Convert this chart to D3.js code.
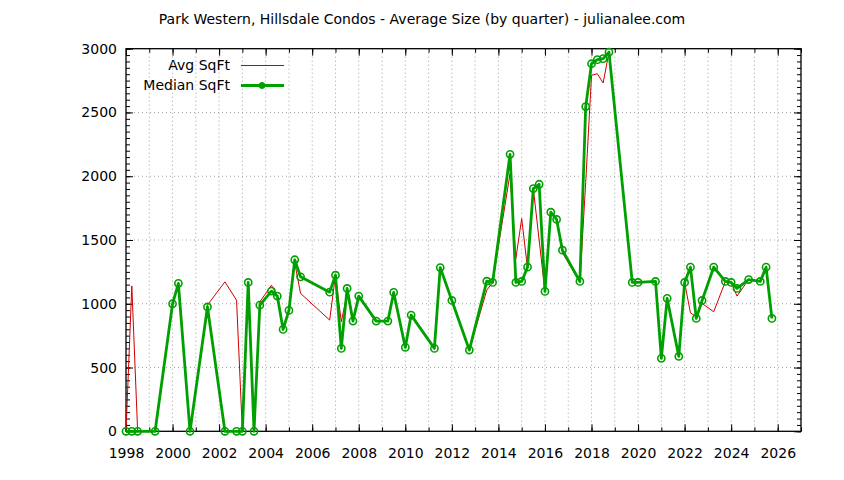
<!DOCTYPE html>
<html>
<head>
<meta charset="utf-8">
<script src="https://cdn.jsdelivr.net/npm/d3@7"></script>
<style>
  body { margin: 0; background: #fff; }
  text { font-family: "DejaVu Sans", sans-serif; font-size: 14px; fill: #000; }
</style>
</head>
<body>
<svg id="chart" width="844" height="480"></svg>
<script>
// quarters that had sales, as "year-quarter"
const periods = [
  '1998-1','1998-2','1998-3','1999-2','2000-1','2000-2','2000-4','2001-3','2002-2','2002-4',
  '2003-1','2003-2','2003-3','2003-4','2004-2','2004-3','2004-4','2005-1','2005-2','2005-3',
  '2006-4','2007-1','2007-2','2007-3','2007-4','2008-1','2008-4','2009-2','2009-3','2010-1',
  '2010-2','2011-2','2011-3','2012-1','2012-4','2013-3','2013-4','2014-3','2014-4','2015-1',
  '2015-2','2015-3','2015-4','2016-1','2016-2','2016-3','2016-4','2017-3','2017-4','2018-1',
  '2018-2','2018-3','2018-4','2019-4','2020-1','2020-4','2021-1','2021-2','2021-4','2022-1',
  '2022-2','2022-3','2022-4','2023-2','2023-4','2024-1','2024-2','2024-4','2025-2','2025-3',
  '2025-4'
];
const avgSqft = [
  0, 1140, 0, 0, 1000, 1160, 0, 990, 1172, 1028,
  0, 1167, 0, 1015, 1146, 1060, 799, 948, 1320, 1081,
  872, 1224, 859, 1081, 864, 1060, 864, 864, 1089, 658,
  911, 650, 1284, 1026, 637, 1107, 1167, 2021, 1355, 1668,
  1277, 1903, 1500, 1097, 1718, 1661, 1400, 1170, 1950, 2791,
  2804, 2731, 2973, 1167, 1167, 1175, 572, 1042, 587, 1167,
  929, 900, 1003, 937, 1175, 1167, 1060, 1190, 1175, 1287,
  885
];
const medianSqft = [
  0, 0, 0, 0, 1000, 1160, 0, 975, 0, 0,
  0, 1167, 0, 989, 1099, 1060, 799, 948, 1345, 1211,
  1091, 1224, 650, 1120, 864, 1060, 864, 864, 1089, 658,
  911, 650, 1284, 1026, 637, 1177, 1167, 2172, 1167, 1175,
  1287, 1903, 1937, 1097, 1718, 1661, 1420, 1175, 2546, 2882,
  2914, 2922, 2973, 1167, 1167, 1175, 572, 1042, 587, 1167,
  1287, 885, 1026, 1287, 1175, 1167, 1120, 1190, 1175, 1287,
  885
];
const xTickYears = d3.range(1998, 2027, 2);
const yTickValues = [0, 500, 1000, 1500, 2000, 2500, 3000];
const chartTitle = 'Park Western, Hillsdale Condos - Average Size (by quarter) - julianalee.com';
const seriesNames = ['Avg SqFt', 'Median SqFt'];

const plotLeft = 126, plotRight = 801, plotTop = 48.7, plotBottom = 431.3;
const avgColor = '#d00000';
const medColor = '#00a000';

function quarterToYear(p){
    let parts = p.split('-');
    return +parts[0] + (+parts[1] - 1) / 4;
}

let rows = periods.map(function(p, i){
    return {x: quarterToYear(p), avg: avgSqft[i], med: medianSqft[i]};
});

let svg = d3.select('#chart');

let x = d3.scaleLinear().domain([1998, 2027]).range([plotLeft, plotRight]);
let y = d3.scaleLinear().domain([0, 3000]).range([plotBottom, plotTop]);

// dotted grid
svg.append('g').selectAll('line')
   .data(d3.range(1999, 2027))
   .enter()
   .append('line')
   .attr('x1', function(d){return x(d);})
   .attr('x2', function(d){return x(d);})
   .attr('y1', plotTop)
   .attr('y2', plotBottom)
   .attr('stroke', '#a0a0a0')
   .attr('stroke-width', 1)
   .attr('stroke-dasharray', '1,3');

svg.append('g').selectAll('line')
   .data(yTickValues.slice(1, -1))
   .enter()
   .append('line')
   .attr('x1', plotLeft)
   .attr('x2', plotRight)
   .attr('y1', function(d){return y(d);})
   .attr('y2', function(d){return y(d);})
   .attr('stroke', '#a0a0a0')
   .attr('stroke-width', 1)
   .attr('stroke-dasharray', '1,3');

// axes, ticks pointing inward
function addAxis(axis, tx, ty){
    let g = svg.append('g')
               .attr('transform', 'translate(' + tx + ',' + ty + ')')
               .call(axis);
    g.select('.domain').remove();
    g.selectAll('line').attr('stroke', '#000').attr('stroke-width', 1);
    return g;
}

let yearMinor = d3.range(1998, 2028);
let sqftMinor = d3.range(0, 3001, 50);

addAxis(d3.axisBottom(x).tickValues(yearMinor).tickSize(-4).tickFormat(''), 0, plotBottom);
addAxis(d3.axisTop(x).tickValues(yearMinor).tickSize(-4).tickFormat(''), 0, plotTop);
addAxis(d3.axisLeft(y).tickValues(sqftMinor).tickSize(-4).tickFormat(''), plotLeft, 0);
addAxis(d3.axisRight(y).tickValues(sqftMinor).tickSize(-4).tickFormat(''), plotRight, 0);

let xAxis = addAxis(d3.axisBottom(x).tickValues(xTickYears).tickSize(-7).tickPadding(17).tickFormat(d3.format('d')), 0, plotBottom);
xAxis.selectAll('text').attr('font-size', 14).attr('font-family', 'DejaVu Sans');
addAxis(d3.axisTop(x).tickValues(xTickYears).tickSize(-7).tickFormat(''), 0, plotTop);

let yAxis = addAxis(d3.axisLeft(y).tickValues(yTickValues).tickSize(-7).tickPadding(9).tickFormat(d3.format('d')), plotLeft, 0);
yAxis.selectAll('text').attr('font-size', 14).attr('font-family', 'DejaVu Sans');
addAxis(d3.axisRight(y).tickValues(yTickValues).tickSize(-7).tickFormat(''), plotRight, 0);

// border
svg.append('rect')
   .attr('x', plotLeft)
   .attr('y', plotTop)
   .attr('width', plotRight - plotLeft)
   .attr('height', plotBottom - plotTop)
   .attr('fill', 'none')
   .attr('stroke', '#000')
   .attr('stroke-width', 1.3);

// series
let avgLine = d3.line().x(function(d){return x(d.x);}).y(function(d){return y(d.avg);});
let medLine = d3.line().x(function(d){return x(d.x);}).y(function(d){return y(d.med);});

svg.append('path')
   .datum(rows)
   .attr('d', avgLine)
   .attr('fill', 'none')
   .attr('stroke', avgColor)
   .attr('stroke-width', 1);

svg.append('path')
   .datum(rows)
   .attr('d', medLine)
   .attr('fill', 'none')
   .attr('stroke', medColor)
   .attr('stroke-width', 2.8)
   .attr('stroke-linejoin', 'round');

svg.append('g').selectAll('circle')
   .data(rows)
   .enter()
   .append('circle')
   .attr('cx', function(d){return x(d.x);})
   .attr('cy', function(d){return y(d.med);})
   .attr('r', 3.6)
   .attr('fill', 'none')
   .attr('stroke', medColor)
   .attr('stroke-width', 1.6);

// legend
let legend = svg.append('g');
legend.selectAll('text')
      .data(seriesNames)
      .enter()
      .append('text')
      .text(function(d){return d;})
      .attr('x', 230)
      .attr('y', function(d, i){return 65.5 + i*20;})
      .attr('dy', '0.35em')
      .attr('text-anchor', 'end');

legend.append('line')
      .attr('x1', 241).attr('x2', 284)
      .attr('y1', 65.5).attr('y2', 65.5)
      .attr('stroke', avgColor).attr('stroke-width', 1);

legend.append('line')
      .attr('x1', 241).attr('x2', 284)
      .attr('y1', 85.5).attr('y2', 85.5)
      .attr('stroke', medColor).attr('stroke-width', 2.8);

legend.append('circle')
      .attr('cx', 262).attr('cy', 85.5).attr('r', 3)
      .attr('fill', medColor).attr('stroke', medColor);

svg.append('text')
   .text(chartTitle)
   .attr('x', 422)
   .attr('y', 19)
   .attr('dy', '0.35em')
   .attr('text-anchor', 'middle');
</script>
</body>
</html>
